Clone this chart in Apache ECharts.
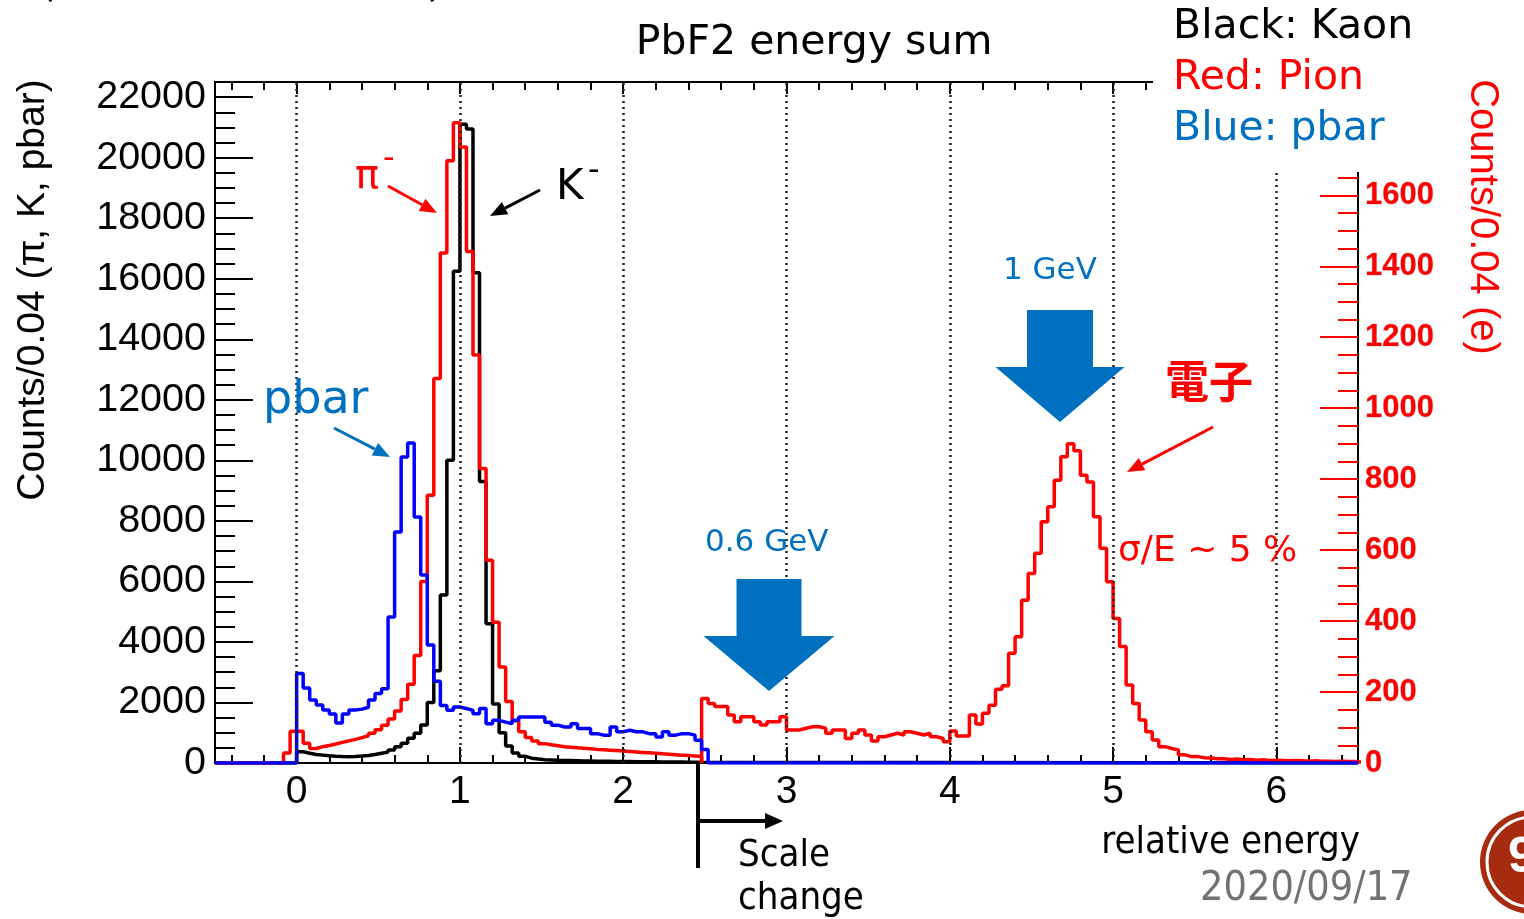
<!DOCTYPE html>
<html>
<head>
<meta charset="utf-8">
<script src="https://cdn.jsdelivr.net/npm/echarts@6/dist/echarts.min.js"></script>
<style>
  html, body { margin: 0; padding: 0; background: #fff; }
  #chart { width: 1524px; height: 919px; }
</style>
</head>
<body>
<div id="chart"></div>
<script>
// bin width of all histograms
var binWidth = 0.04

// K- (black), bins start at x = 0.00
var kaonFirstEdge = 0
var kaonCounts = [370, 320, 280, 260, 240, 225, 215, 210, 215, 230, 250, 280, 320, 360, 430, 540, 650, 815, 980, 1255,
  2000, 3050, 5550, 10000, 16250, 21100, 20950, 16200, 9300, 4600, 1950, 1000, 560, 330, 220, 160, 130, 110, 100, 90,
  85, 80, 75, 70, 65, 60, 58, 55, 52, 50, 48, 45, 43, 40, 38, 36, 34, 32, 30, 28, 26, 25]

// pi- (red, left scale), bins start at x = -0.08
var pionFirstEdge = -0.08
var pionCounts = [330, 1050, 1050, 650, 480, 540, 580, 630, 680, 730, 780, 840, 900, 980, 1100, 1250, 1450, 1720, 2100, 2600,
  3550, 6000, 8850, 12700, 16850, 19900, 21150, 20350, 16900, 13480, 9730, 6700, 4650, 3170, 2030, 1400, 1030, 840, 730, 640,
  600, 570, 540, 520, 500, 485, 470, 450, 440, 425, 410, 395, 380, 365, 350, 335, 320, 305, 290, 275,
  260, 245, 230, 215]

// pbar (blue), bins start at x = 0.00
var pbarFirstEdge = 0
var pbarCounts = [2960, 2480, 2080, 1920, 1750, 1620, 1320, 1620, 1750, 1780, 1840, 2080, 2300, 2450, 4820, 7630, 10110, 10570, 8130, 6210,
  3900, 2700, 1900, 1740, 1850, 1800, 1740, 1630, 1800, 1300, 1410, 1350, 1300, 1410, 1520, 1520, 1520, 1520, 1350, 1250,
  1190, 1190, 1300, 1140, 1140, 970, 920, 920, 1190, 1030, 1080, 1030, 1030, 970, 970, 860, 1030, 920, 970, 970,
  920, 750, 450]

// electrons (red, right scale), bins start at x = 2.48
var elecFirstEdge = 2.48
var elecCounts = [182, 168, 159, 159, 135, 116, 130, 130, 116, 107, 116, 116, 130, 93, 93, 98, 102, 102, 98, 84,
  93, 93, 69, 84, 93, 79, 62, 74, 79, 84, 79, 88, 84, 79, 84, 74, 69, 60, 90, 76,
  76, 135, 110, 140, 163, 208, 218, 309, 356, 459, 534, 591, 680, 722, 797, 863, 900, 880, 811, 792,
  694, 605, 511, 407, 328, 220, 168, 121, 88, 65, 46, 41, 37, 23, 18, 18, 15, 14, 12, 12,
  10, 11, 9, 10, 8, 9, 7, 8, 7, 6, 7, 6, 5, 6, 5, 5, 4, 5, 4, 4, 3]

// axes
var xMin = -0.5
var xMax = 6.5
var xTickLabels = [0, 1, 2, 3, 4, 5, 6]
var leftTickLabels = [0, 2000, 4000, 6000, 8000, 10000, 12000, 14000, 16000, 18000, 20000, 22000]
var leftMax = 22500
var rightTickLabels = [0, 200, 400, 600, 800, 1000, 1200, 1400, 1600]
var rightMax = 1660

function steps(from, to, step) {
  var out = []
  var n = Math.round((to - from) / step)
  for (var i = 0; i <= n; i++) out.push(+(from + i * step).toFixed(4))
  return out
}

// histogram outline: [edge, count] points, drawn with step 'end'
function histo(firstEdge, counts, padLeft, padRight) {
  var pts = []
  if (padLeft !== null) pts.push([padLeft, 0])
  counts.forEach(function (c, i) {
    pts.push([+(firstEdge + i * binWidth).toFixed(4), c])
  })
  var last = +(firstEdge + counts.length * binWidth).toFixed(4)
  pts.push([last, 0])
  if (padRight !== null) pts.push([padRight, 0])
  return pts
}

var chart = echarts.init(document.getElementById('chart'))

var GL = 215, GR = 166, GT = 82, GB = 156
var font = 'Liberation Sans, Arial, sans-serif'
var vfont = 'DejaVu Sans, Verdana, sans-serif'
var nfont = 'Liberation Sans Narrow, DejaVu Sans Condensed, Liberation Sans, sans-serif'
var annBlue = '#0070C0'
var lw = 3.5

function tickAxis(extra) {
  var base = {
    type: 'value',
    axisLine: { show: false, onZero: false },
    splitLine: { show: false },
    axisLabel: { show: false },
    axisTick: { inside: true, lineStyle: { color: '#000', width: 2 } }
  }
  var out = Object.assign(base, extra)
  out.axisLine = Object.assign({ onZero: false }, out.axisLine)
  return out
}

function text(x, y, str, size, color, opt) {
  return Object.assign({
    type: 'text', z: 120, x: x, y: y,
    style: Object.assign({
      text: str, fill: color, fontSize: size, fontFamily: vfont,
      textAlign: 'left', textVerticalAlign: 'middle'
    }, (opt && opt.style) || {})
  }, (opt && opt.el) || {})
}

function arrow(x1, y1, x2, y2, color, width, headLen, headW) {
  var a = Math.atan2(y2 - y1, x2 - x1)
  var bx = x2 - headLen * Math.cos(a), by = y2 - headLen * Math.sin(a)
  var px = -Math.sin(a) * headW / 2, py = Math.cos(a) * headW / 2
  return [
    { type: 'line', z: 110, shape: { x1: x1, y1: y1, x2: bx, y2: by }, style: { stroke: color, lineWidth: width } },
    { type: 'polygon', z: 110, shape: { points: [[x2, y2], [bx + px, by + py], [bx - px, by - py]] }, style: { fill: color } }
  ]
}

function bigArrow(cx, top, shaftW, shaftBottom, headW, tip, color) {
  return {
    type: 'polygon', z: 110,
    shape: { points: [[cx - shaftW / 2, top], [cx + shaftW / 2, top], [cx + shaftW / 2, shaftBottom], [cx + headW / 2, shaftBottom],
      [cx, tip], [cx - headW / 2, shaftBottom], [cx - shaftW / 2, shaftBottom]] },
    style: { fill: color }
  }
}

var graphics = [
  // white box under the legend text (hides frame corner)
  { type: 'rect', z: 100, shape: { x: 1153, y: 0, width: 371, height: 172 }, style: { fill: '#fff' } },
  text(814, 43, 'PbF2 energy sum', 41, '#000', { style: { textAlign: 'center' } }),
  text(1173, 27, 'Black: Kaon', 41, '#000'),
  text(1173, 78, 'Red: Pion', 41, '#FF0000'),
  text(1173, 129, 'Blue: pbar', 41, annBlue),
  // axis titles
  text(33, 290, 'Counts/0.04 (π, K, pbar)', 39, '#000', { el: { rotation: Math.PI / 2 }, style: { x: 0, y: 0, textAlign: 'center', fontFamily: font } }),
  text(1482, 217, 'Counts/0.04 (e)', 40, '#FF0000', { el: { rotation: -Math.PI / 2 }, style: { x: 0, y: 0, textAlign: 'center', fontFamily: font } }),
  text(1360, 843, 'relative energy', 38, '#000', { style: { textAlign: 'right', fontFamily: nfont } }),
  text(738, 856, 'Scale', 38, '#000', { style: { fontFamily: nfont } }),
  text(738, 899, 'change', 38, '#000', { style: { fontFamily: nfont } }),
  text(1200, 889, '2020/09/17', 41, '#767171', { style: { fontFamily: nfont } }),
  text(40, -14, '(', 40, '#000'),
  text(427, -14, ')', 40, '#000'),
  // particle labels
  text(355, 178, 'π', 40, '#FF0000'),
  text(383, 160, '-', 32, '#FF0000'),
  text(556, 188, 'K', 42, '#000'),
  text(588, 172, '-', 32, '#000'),
  text(263, 401, 'pbar', 46, annBlue),
  text(705, 543, '0.6 GeV', 31, annBlue),
  text(1003, 271, '1 GeV', 31, annBlue),
  text(1165, 381, '電子', 44, '#FF0000', { style: { fontFamily: 'Noto Sans CJK JP', fontWeight: 'bold' } }),
  text(1118, 552, 'σ/E ~ 5 %', 36, '#FF0000'),
  bigArrow(769, 579, 65, 636, 131, 691, annBlue),
  bigArrow(1060, 310, 66, 367, 129, 422, annBlue),
  // scale change marker
  { type: 'line', z: 110, shape: { x1: 698, y1: 763, x2: 698, y2: 868 }, style: { stroke: '#000', lineWidth: 4 } },
  // page badge
  { type: 'circle', z: 100, shape: { cx: 1532, cy: 862, r: 52 }, style: { fill: '#A72B0E' } },
  { type: 'circle', z: 101, shape: { cx: 1532, cy: 862, r: 45 }, style: { fill: 'none', stroke: '#fff', lineWidth: 3 } },
  text(1508, 858, '9', 50, '#fff', { style: { fontWeight: 'bold', fontFamily: font } })
]
graphics = graphics
  .concat(arrow(388, 186, 437, 213, '#FF0000', 3, 17, 14))
  .concat(arrow(540, 190, 490, 216, '#000', 3, 17, 14))
  .concat(arrow(334, 428, 390, 457, annBlue, 3, 17, 14))
  .concat(arrow(1213, 427, 1127, 472, '#FF0000', 3, 17, 14))
  .concat(arrow(698, 821, 783, 821, '#000', 4, 18, 16))

var option = {
  animation: false,
  backgroundColor: '#fff',
  grid: [
    { left: GL, right: GR, top: GT, bottom: GB, show: true, borderColor: '#000', borderWidth: 2, backgroundColor: 'transparent' },
    { left: GL, right: GR, top: 763 - Math.round(rightMax * 0.355), bottom: GB }
  ],
  xAxis: [
    tickAxis({ gridIndex: 0, min: xMin, max: xMax, position: 'bottom',
      axisTick: { inside: true, length: 16, customValues: xTickLabels, lineStyle: { color: '#000', width: 2 } },
      axisLabel: { show: true, customValues: xTickLabels, margin: 10, fontSize: 39, color: '#000', fontFamily: font } }),
    tickAxis({ gridIndex: 0, min: xMin, max: xMax, position: 'bottom',
      axisTick: { inside: true, length: 8, customValues: steps(-0.4, 6.4, 0.2), lineStyle: { color: '#000', width: 2 } } }),
    tickAxis({ gridIndex: 0, min: xMin, max: xMax, position: 'top',
      axisTick: { inside: true, length: 12, customValues: xTickLabels, lineStyle: { color: '#000', width: 2 } } }),
    tickAxis({ gridIndex: 0, min: xMin, max: xMax, position: 'top',
      axisTick: { inside: true, length: 8, customValues: steps(-0.4, 6.4, 0.2), lineStyle: { color: '#000', width: 2 } } }),
    { type: 'value', gridIndex: 1, min: xMin, max: xMax, show: false, axisLine: { onZero: false } }
  ],
  yAxis: [
    tickAxis({ gridIndex: 0, min: 0, max: leftMax, position: 'left',
      axisTick: { inside: true, length: 38, customValues: leftTickLabels, lineStyle: { color: '#000', width: 2 } },
      axisLabel: { show: true, customValues: leftTickLabels, margin: 9, fontSize: 39.5, color: '#000', fontFamily: font,
        formatter: function (v) { return String(v) } } }),
    tickAxis({ gridIndex: 0, min: 0, max: leftMax, position: 'left',
      axisTick: { inside: true, length: 20, customValues: steps(0, leftMax, 500), lineStyle: { color: '#000', width: 2 } } }),
    tickAxis({ gridIndex: 1, min: 0, max: rightMax, position: 'right',
      axisLine: { show: true, onZero: false, lineStyle: { color: '#000', width: 2 } },
      axisTick: { inside: true, length: 38, customValues: rightTickLabels, lineStyle: { color: '#FF0000', width: 2 } },
      axisLabel: { show: true, customValues: rightTickLabels, margin: 7, fontSize: 31, fontWeight: 'bold', color: '#FF0000', fontFamily: font,
        textBorderColor: 'rgba(120,120,120,0.35)', textBorderWidth: 1,
        formatter: function (v) { return String(v) } } }),
    tickAxis({ gridIndex: 1, min: 0, max: rightMax, position: 'right',
      axisTick: { inside: true, length: 20, customValues: steps(0, 1650, 50), lineStyle: { color: '#FF0000', width: 2 } } })
  ],
  series: [
    {
      name: 'Kaon', type: 'line', step: 'end', xAxisIndex: 0, yAxisIndex: 0,
      data: histo(kaonFirstEdge, kaonCounts, xMin, xMax),
      showSymbol: false, symbol: 'none', lineStyle: { color: '#000', width: lw },
      markLine: {
        silent: true, symbol: 'none', label: { show: false },
        lineStyle: { color: '#222', width: 2.5, type: [2, 4] },
        data: xTickLabels.map(function (v) { return { xAxis: v } })
      }
    },
    {
      name: 'Pion', type: 'line', step: 'end', xAxisIndex: 0, yAxisIndex: 0,
      data: histo(pionFirstEdge, pionCounts, xMin, null),
      showSymbol: false, symbol: 'none', lineStyle: { color: '#FF0000', width: lw }
    },
    {
      name: 'e', type: 'line', step: 'end', xAxisIndex: 4, yAxisIndex: 2,
      data: histo(elecFirstEdge, elecCounts, elecFirstEdge, null),
      showSymbol: false, symbol: 'none', lineStyle: { color: '#FF0000', width: lw }
    },
    {
      name: 'pbar', type: 'line', step: 'end', xAxisIndex: 0, yAxisIndex: 0,
      data: histo(pbarFirstEdge, pbarCounts, xMin, xMax),
      showSymbol: false, symbol: 'none', lineStyle: { color: '#0000FF', width: lw }
    }
  ],
  graphic: { elements: graphics }
}
chart.setOption(option)
</script>
</body>
</html>
